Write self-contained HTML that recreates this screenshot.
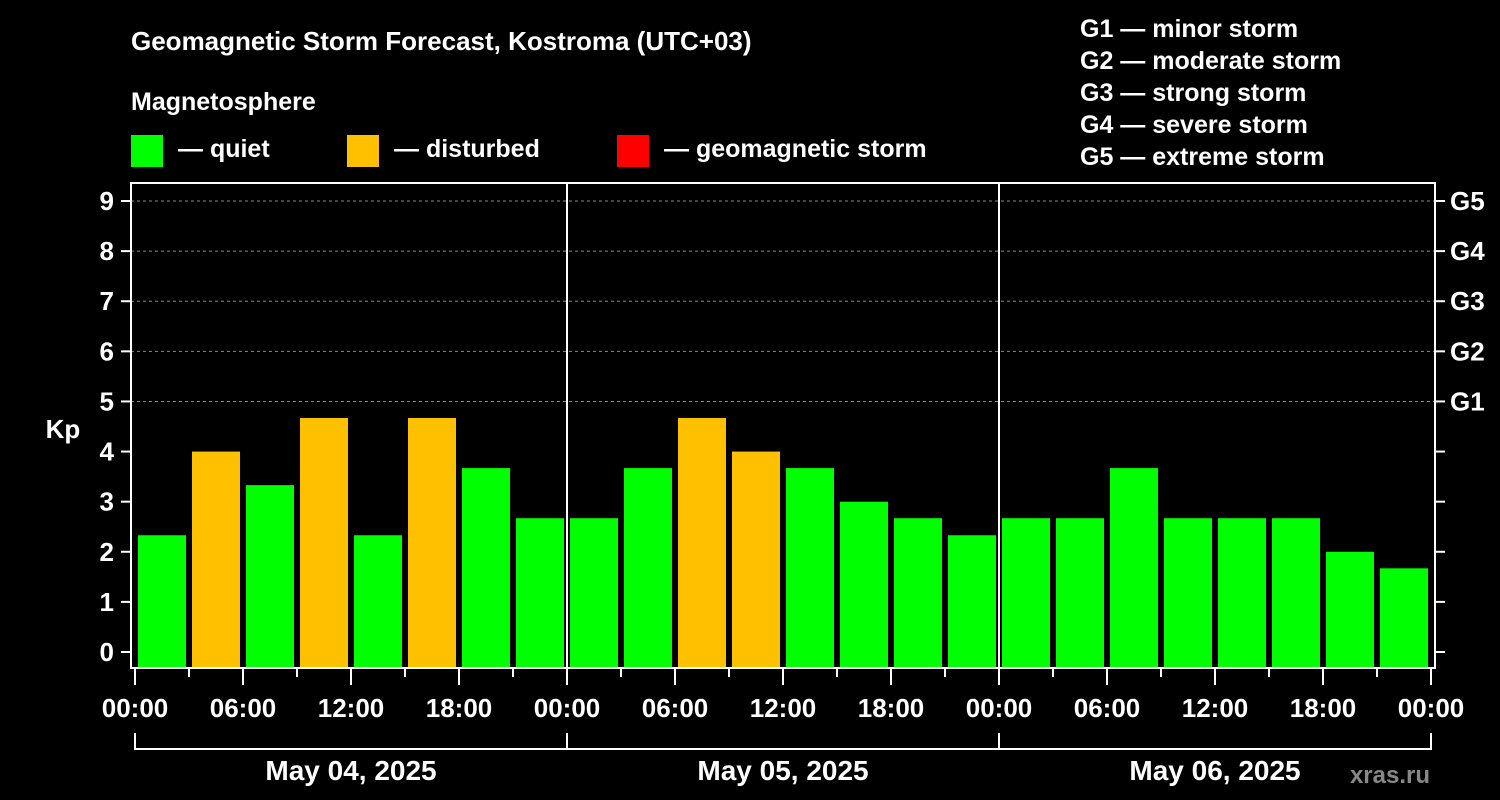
<!DOCTYPE html>
<html><head><meta charset="utf-8"><style>
html,body{margin:0;padding:0;background:#000;}
svg{display:block;font-family:"Liberation Sans",Arial,sans-serif;font-weight:bold;}
</style></head><body>
<svg id="chart" width="1500" height="800" viewBox="0 0 1500 800">
<rect width="1500" height="800" fill="#000"/>
<text x="131" y="50" fill="#fff" font-size="26">Geomagnetic Storm Forecast, Kostroma (UTC+03)</text>
<text x="131" y="110" fill="#fff" font-size="25">Magnetosphere</text>
<g><rect x="131" y="135" width="32" height="32" fill="#00ff00"/><text x="178" y="157" fill="#fff" font-size="25">— quiet</text></g>
<g><rect x="347" y="135" width="32" height="32" fill="#ffc000"/><text x="394" y="157" fill="#fff" font-size="25">— disturbed</text></g>
<g><rect x="617" y="135" width="32" height="32" fill="#ff0000"/><text x="664" y="157" fill="#fff" font-size="25">— geomagnetic storm</text></g>
<g fill="#fff" font-size="25">
<text x="1080" y="37">G1 — minor storm</text>
<text x="1080" y="69">G2 — moderate storm</text>
<text x="1080" y="101">G3 — strong storm</text>
<text x="1080" y="133">G4 — severe storm</text>
<text x="1080" y="165">G5 — extreme storm</text>
</g>
<text x="63" y="438" fill="#fff" font-size="26" text-anchor="middle">Kp</text>
<text x="1430" y="783" fill="#888" font-size="24" text-anchor="end">xras.ru</text>
<g id="plot"></g>
</svg>
<script>
const kpValues = [2.33,4,3.33,4.67,2.33,4.67,3.67,2.67, 2.67,3.67,4.67,4,3.67,3,2.67,2.33, 2.67,2.67,3.67,2.67,2.67,2.67,2,1.67];
const yTicks = [0,1,2,3,4,5,6,7,8,9];
const gLabels = ["G1","G2","G3","G4","G5"];
const timeLabels = ["00:00","06:00","12:00","18:00"];
const dayLabels = ["May 04, 2025","May 05, 2025","May 06, 2025"];

const NS="http://www.w3.org/2000/svg";
const plot=document.getElementById('plot');
const L=131,R=1435,T=183,B=668,X0=135,DAY=432;
const y=v=>652-v*50.11;
const x=h=>X0+h*DAY/24;
function mk(tag,attrs,parent){const e=document.createElementNS(NS,tag);for(const k in attrs)e.setAttribute(k,attrs[k]);(parent||plot).appendChild(e);return e;}
// grid
[5,6,7,8,9].forEach(v=>{
 const l=mk('line',{x1:L,x2:R,y1:y(v),y2:y(v),stroke:'#888','stroke-dasharray':'3,3','stroke-width':1});
 
 
});
// bars
kpValues.forEach((v,i)=>{
 const c=v>=5?'#ff0000':(v>=4?'#ffc000':'#00ff00');
 const r=mk('rect',{x:x(i*3)+3,y:y(v),width:48,height:B-y(v),fill:c});
 
 
});
// day separators
for(let d=1;d<3;d++){
 const l=mk('line',{x1:x(d*24),x2:x(d*24),y1:T,y2:B,stroke:'#fff','stroke-width':2});
 
 
}
// frame
const f=mk('rect',{x:L,y:T,width:R-L,height:B-T,fill:'none',stroke:'#fff','stroke-width':2});


// y ticks
yTicks.forEach(v=>{
 mk('line',{x1:121,x2:L,y1:y(v),y2:y(v),stroke:'#fff','stroke-width':2});
 mk('line',{x1:R,x2:R+10,y1:y(v),y2:y(v),stroke:'#fff','stroke-width':2});
 const t=mk('text',{x:114,y:y(v)+9,fill:'#fff','font-size':26,'text-anchor':'end'});
 t.textContent=v;
 
 
});
gLabels.forEach((g,i)=>{
 const t=mk('text',{x:1450,y:y(5+i)+9,fill:'#fff','font-size':26});
 t.textContent=g;
 
 
});
// x ticks
for(let h=0;h<=72;h+=3){
 const major=h%6===0;
 mk('line',{x1:x(h),x2:x(h),y1:B,y2:major?685:677,stroke:'#fff','stroke-width':2});
 if(major){
  const t=mk('text',{x:x(h),y:717,fill:'#fff','font-size':26,'text-anchor':'middle'});
  t.textContent=timeLabels[(h/6)%4];
  
  
 }
}
// day brackets
mk('line',{x1:x(0),x2:x(72),y1:749,y2:749,stroke:'#fff','stroke-width':2});
for(let d=0;d<=3;d++)mk('line',{x1:x(d*24),x2:x(d*24),y1:733,y2:750,stroke:'#fff','stroke-width':2});
dayLabels.forEach((s,d)=>{
 const t=mk('text',{x:x(d*24+12),y:780,fill:'#fff','font-size':28,'text-anchor':'middle'});
 t.textContent=s;
 
 
});
</script>
</body></html>
